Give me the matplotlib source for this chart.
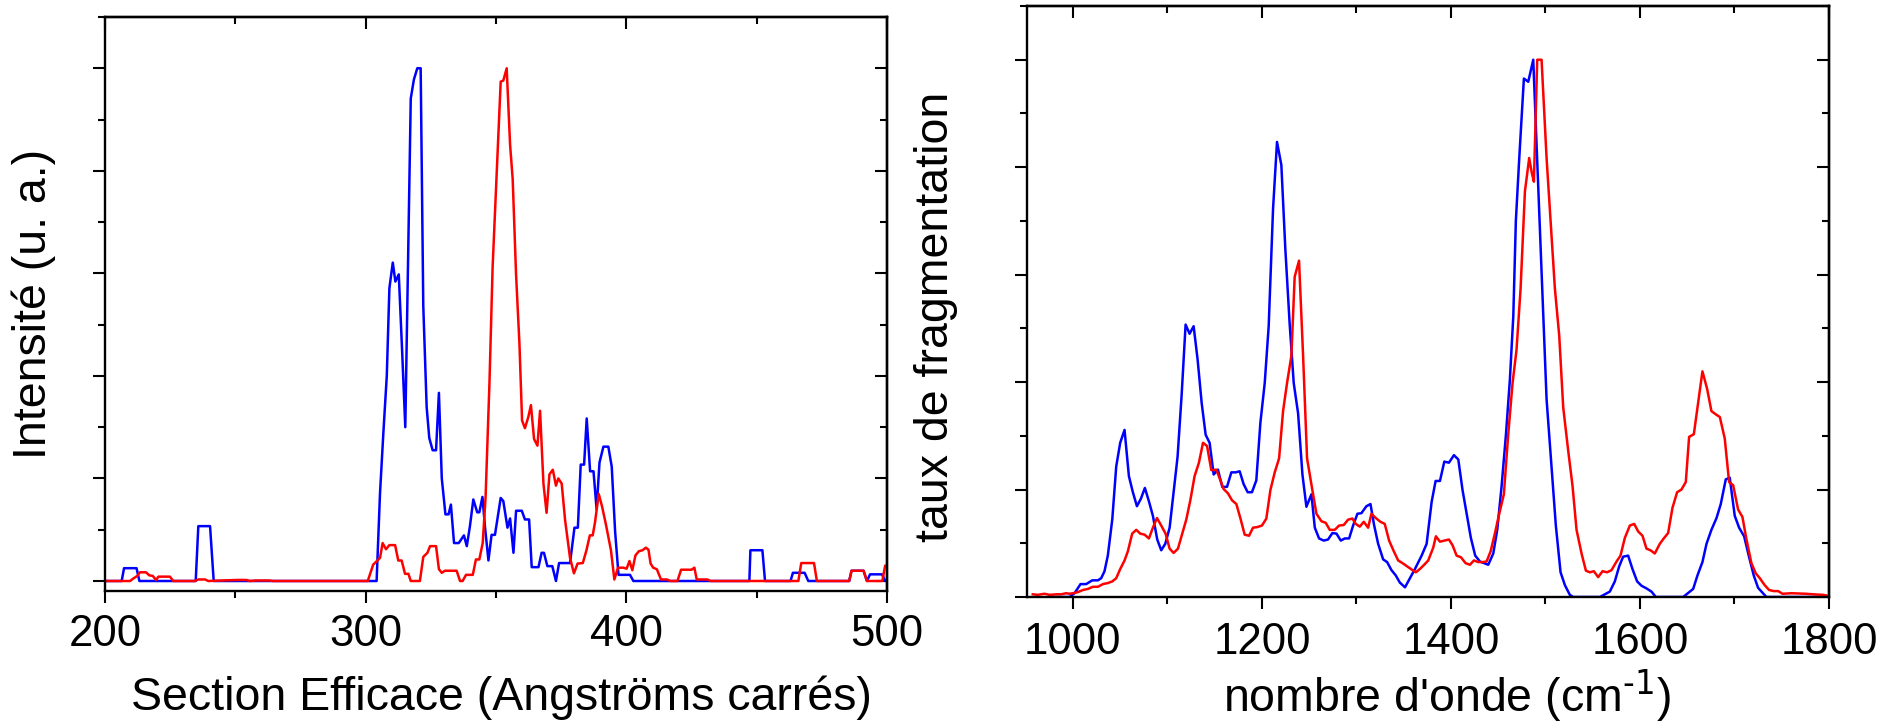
import matplotlib
matplotlib.use("Agg")
import matplotlib.pyplot as plt
from matplotlib.ticker import MultipleLocator, NullFormatter

plt.rcParams['font.family'] = ['Liberation Sans', 'DejaVu Sans']
plt.rcParams['mathtext.default'] = 'regular'

# left panel: intensity vs cross section
cs_blue_x = [200, 206.4, 207.3, 212.1, 213.2, 234.8, 235.8, 240.3, 241.7, 304.2, 305.5, 306.8,
             308.1, 309.1, 310.4, 311.4, 312.7, 314.0, 315.2, 317.3, 318.5, 319.8, 321.1, 322.1,
             323.4, 324.4, 325.7, 327.0, 328.1, 329.2, 330.6, 331.8, 332.7, 333.9, 335.7, 337.7,
             338.8, 340.0, 341.3, 342.8, 343.6, 344.8, 345.8, 347.1, 348.3, 349.6, 351.8, 352.8,
             354.4, 355.4, 356.7, 357.7, 359.9, 361.1, 362.7, 363.7, 366.3, 367.5, 368.4, 369.7,
             371.6, 373.0, 374.2, 378.4, 380.1, 381.4, 382.5, 383.8, 384.8, 386.1, 387.4, 388.6,
             389.7, 391.2, 393.1, 394.4, 395.7, 397.0, 401.4, 402.7, 447.2, 447.6, 452.2, 453.2,
             463.0, 463.9, 468.4, 469.8, 485.5, 486.4, 491.0, 492.3, 493.5, 498.1, 499.3, 500]
cs_blue_y = [0, 0, 0.025, 0.025, 0, 0, 0.107, 0.107, 0, 0, 0.171, 0.29,
             0.40, 0.571, 0.621, 0.584, 0.598, 0.447, 0.30, 0.941, 0.978, 1.0, 1.0, 0.537,
             0.339, 0.279, 0.255, 0.255, 0.367, 0.20, 0.13, 0.13, 0.149, 0.074, 0.074, 0.089,
             0.068, 0.107, 0.159, 0.134, 0.134, 0.164, 0.104, 0.04, 0.09, 0.09, 0.162, 0.156,
             0.104, 0.122, 0.055, 0.137, 0.137, 0.12, 0.12, 0.027, 0.027, 0.055, 0.055, 0.029,
             0.029, 0.0, 0.035, 0.035, 0.104, 0.104, 0.227, 0.227, 0.317, 0.214, 0.214, 0.14,
             0.231, 0.262, 0.262, 0.223, 0.096, 0.012, 0.012, 0, 0, 0.06, 0.06, 0,
             0, 0.016, 0.016, 0, 0, 0.02, 0.02, 0, 0.013, 0.013, 0, 0]

cs_red_x = [200, 209.6, 210.9, 212.4, 213.4, 215.7, 217.0, 218.3, 219.6, 220.5, 224.9, 226.2,
            234.5, 235.8, 238.4, 239.6, 250.5, 254.3, 255.5, 258.0, 263.0, 264.5, 300.8, 302.9,
            305.5, 306.5, 307.8, 309.1, 311.3, 312.5, 313.8, 315.1, 316.4, 317.3, 320.8, 322.1,
            323.7, 324.7, 327.0, 328.1, 329.2, 330.4, 334.9, 336.2, 337.2, 338.5, 341.1, 342.3,
            343.6, 344.9, 346.0, 347.5, 348.7, 350.3, 351.8, 352.8, 354.1, 355.4, 356.4, 357.7,
            359.0, 360.0, 361.1, 362.4, 363.4, 364.6, 365.9, 366.9, 368.2, 369.4, 370.5, 371.8,
            373.0, 373.9, 375.2, 376.5, 378.4, 379.9, 381.3, 383.3, 384.7, 386.0, 387.1, 388.0,
            389.4, 390.7, 392.1, 394.1, 395.4, 396.8, 398.8, 400.1, 401.2, 402.3, 403.5, 404.8,
            406.2, 407.5, 408.5, 409.3, 410.3, 411.7, 413.3, 415.6, 416.9, 419.6, 421.0, 425.0,
            426.1, 427.0, 431.0, 432.4, 466.0, 467.1, 472.0, 473.1, 485.5, 486.4, 491.0, 492.3,
            498.2, 499.3, 500]
cs_red_y = [0, 0, 0.005, 0.01, 0.017, 0.017, 0.011, 0.01, 0.002, 0.0085, 0.0085, 0,
            0, 0.003, 0.003, 0, 0.002, 0.002, 0, 0.001, 0.001, 0, 0, 0.032,
            0.045, 0.074, 0.062, 0.07, 0.07, 0.04, 0.04, 0.014, 0.014, 0, 0, 0.047,
            0.055, 0.068, 0.068, 0.023, 0.016, 0.02, 0.02, 0, 0, 0.012, 0.012, 0.042,
            0.042, 0.074, 0.163, 0.388, 0.612, 0.799, 0.974, 0.976, 1.0, 0.851, 0.784, 0.597,
            0.462, 0.313, 0.298, 0.32, 0.343, 0.277, 0.264, 0.332, 0.19, 0.133, 0.208, 0.217,
            0.186, 0.2, 0.19, 0.119, 0.045, 0.015, 0.034, 0.035, 0.06, 0.089, 0.089, 0.115,
            0.17, 0.145, 0.112, 0.06, 0.003, 0.026, 0.026, 0.024, 0.039, 0.021, 0.05, 0.058,
            0.06, 0.065, 0.061, 0.034, 0.026, 0.023, 0.003, 0.003, 0, 0, 0.022, 0.022,
            0.026, 0.003, 0.003, 0, 0, 0.035, 0.035, 0, 0, 0.02, 0.02, 0,
            0, 0.03, 0.03]

# right panel: fragmentation vs wavenumber
wn_blue_x = [975.3, 996.5, 1001.8, 1008.1, 1014.1, 1020.5, 1026.5, 1030.0, 1033.5, 1037.0, 1041.7,
             1045.9, 1050.1, 1054.7, 1059.3, 1063.5, 1067.8, 1072.0, 1076.2, 1080.5, 1084.7, 1089.3,
             1093.5, 1097.8, 1102.4, 1106.6, 1110.8, 1115.1, 1119.3, 1123.5, 1127.8, 1132.0, 1136.3,
             1140.5, 1144.7, 1149.0, 1153.5, 1158.1, 1163.1, 1167.7, 1172.3, 1176.5, 1180.7, 1185.0,
             1189.5, 1194.1, 1198.4, 1203.0, 1207.2, 1211.8, 1216.0, 1220.6, 1224.8, 1229.4, 1233.7,
             1238.3, 1242.9, 1247.1, 1252.4, 1256.0, 1260.5, 1265.4, 1270.0, 1274.6, 1278.9, 1283.5,
             1287.7, 1292.3, 1296.5, 1301.1, 1305.3, 1310.6, 1314.9, 1318.7, 1323.0, 1328.3, 1332.5,
             1337.1, 1341.7, 1345.9, 1351.4, 1361.9, 1369.0, 1374.3, 1379.6, 1383.8, 1388.4, 1393.0,
             1397.9, 1403.2, 1407.8, 1412.3, 1416.6, 1421.1, 1425.7, 1430.7, 1439.5, 1444.8, 1449.0,
             1453.6, 1458.2, 1462.4, 1466.0, 1468.7, 1472.3, 1477.2, 1481.8, 1487.1, 1490.6, 1494.1,
             1497.6, 1501.2, 1506.4, 1511.0, 1516.0, 1520.6, 1525.8, 1529.4, 1557.6, 1568.1, 1573.4,
             1578.0, 1582.2, 1587.5, 1592.1, 1597.0, 1601.6, 1606.9, 1612.2, 1616.8, 1645.7, 1656.3,
             1660.8, 1666.1, 1670.4, 1675.6, 1681.0, 1685.5, 1690.8, 1695.0, 1700.3, 1704.9, 1710.2,
             1715.5, 1720.4, 1725.0, 1733.8, 1800]
wn_blue_y = [0, 0, 0.007, 0.024, 0.024, 0.031, 0.031, 0.035, 0.048, 0.077, 0.144,
             0.243, 0.287, 0.311, 0.225, 0.195, 0.169, 0.183, 0.203, 0.178, 0.151, 0.107,
             0.087, 0.099, 0.129, 0.195, 0.261, 0.376, 0.507, 0.490, 0.504, 0.442, 0.361,
             0.302, 0.287, 0.228, 0.237, 0.205, 0.205, 0.232, 0.232, 0.234, 0.210, 0.195,
             0.195, 0.217, 0.324, 0.398, 0.504, 0.722, 0.847, 0.804, 0.648, 0.508, 0.398,
             0.342, 0.228, 0.168, 0.191, 0.129, 0.109, 0.105, 0.107, 0.119, 0.118, 0.105,
             0.109, 0.109, 0.133, 0.155, 0.156, 0.169, 0.173, 0.134, 0.099, 0.070, 0.065,
             0.050, 0.040, 0.027, 0.018, 0.052, 0.077, 0.099, 0.177, 0.216, 0.216, 0.252,
             0.250, 0.264, 0.256, 0.199, 0.155, 0.110, 0.077, 0.066, 0.060, 0.081, 0.125,
             0.206, 0.302, 0.405, 0.523, 0.700, 0.817, 0.965, 0.959, 1.000, 0.843, 0.685,
             0.527, 0.368, 0.243, 0.133, 0.046, 0.022, 0.004, 0, 0, 0.010, 0.029,
             0.057, 0.075, 0.077, 0.052, 0.029, 0.021, 0.016, 0.010, 0, 0, 0.015,
             0.040, 0.065, 0.099, 0.125, 0.147, 0.173, 0.219, 0.222, 0.151, 0.129, 0.113,
             0.074, 0.040, 0.017, 0, 0]

wn_red_x = [957.6, 962.9, 970.0, 975.3, 982.4, 987.6, 992.9, 996.5, 1000.0, 1005.3, 1010.6,
            1015.9, 1021.2, 1026.5, 1031.8, 1037.1, 1041.7, 1045.9, 1050.1, 1054.7, 1058.2, 1062.8,
            1067.1, 1071.3, 1075.9, 1080.5, 1084.7, 1089.0, 1093.5, 1098.1, 1102.4, 1106.6, 1111.2,
            1115.8, 1120.0, 1124.3, 1128.8, 1133.4, 1137.7, 1142.0, 1146.5, 1151.8, 1155.3, 1159.5,
            1164.1, 1168.4, 1173.0, 1177.2, 1181.8, 1186.4, 1190.6, 1194.8, 1200.1, 1204.7, 1209.0,
            1213.6, 1218.2, 1222.4, 1226.6, 1231.2, 1234.7, 1239.3, 1243.6, 1247.8, 1253.4, 1257.7,
            1263.0, 1267.6, 1271.8, 1277.1, 1281.7, 1286.6, 1291.2, 1295.8, 1299.3, 1303.6, 1307.8,
            1312.4, 1315.9, 1320.5, 1325.4, 1330.0, 1334.6, 1339.6, 1344.2, 1348.8, 1353.7, 1359.4,
            1362.9, 1367.1, 1371.7, 1376.0, 1381.3, 1384.1, 1388.4, 1393.0, 1397.9, 1401.8, 1406.0,
            1410.6, 1415.5, 1420.1, 1424.3, 1428.9, 1433.5, 1437.7, 1442.0, 1446.5, 1451.1, 1456.0,
            1460.6, 1465.2, 1469.4, 1473.7, 1478.3, 1482.8, 1485.5, 1487.8, 1491.3, 1495.9, 1501.2,
            1505.4, 1510.0, 1514.6, 1518.8, 1524.1, 1528.7, 1532.9, 1538.2, 1542.8, 1547.0, 1551.2,
            1555.8, 1560.4, 1565.3, 1569.9, 1575.2, 1579.4, 1584.0, 1589.3, 1593.9, 1598.1, 1602.7,
            1606.9, 1611.1, 1615.7, 1621.0, 1625.6, 1629.8, 1634.4, 1639.3, 1643.9, 1648.5, 1652.0,
            1657.0, 1661.5, 1666.1, 1671.1, 1675.6, 1680.2, 1684.5, 1689.7, 1694.3, 1698.6, 1703.8,
            1708.4, 1712.7, 1717.9, 1722.5, 1726.8, 1732.0, 1736.6, 1741.6, 1746.2, 1750.8, 1760.2,
            1776.0, 1783.2, 1793.7, 1800.0]
wn_red_y = [0.005, 0.004, 0.006, 0.004, 0.005, 0.005, 0.007, 0.006, 0.007, 0.009, 0.013,
            0.015, 0.019, 0.019, 0.024, 0.026, 0.029, 0.035, 0.052, 0.068, 0.085, 0.118,
            0.125, 0.118, 0.116, 0.109, 0.129, 0.147, 0.133, 0.118, 0.090, 0.082, 0.090,
            0.118, 0.144, 0.180, 0.225, 0.250, 0.287, 0.281, 0.236, 0.237, 0.221, 0.201,
            0.193, 0.180, 0.173, 0.147, 0.116, 0.114, 0.129, 0.130, 0.133, 0.146, 0.199,
            0.232, 0.258, 0.346, 0.398, 0.449, 0.596, 0.626, 0.449, 0.258, 0.199, 0.155,
            0.141, 0.138, 0.125, 0.125, 0.133, 0.134, 0.144, 0.146, 0.136, 0.131, 0.140,
            0.129, 0.155, 0.147, 0.140, 0.136, 0.105, 0.085, 0.068, 0.063, 0.057, 0.050,
            0.046, 0.052, 0.060, 0.068, 0.092, 0.113, 0.103, 0.105, 0.107, 0.096, 0.077,
            0.074, 0.063, 0.060, 0.068, 0.065, 0.065, 0.066, 0.085, 0.118, 0.155, 0.191,
            0.302, 0.398, 0.460, 0.574, 0.755, 0.817, 0.790, 0.773, 1.000, 1.000, 0.817,
            0.700, 0.574, 0.486, 0.353, 0.272, 0.206, 0.125, 0.081, 0.049, 0.046, 0.048,
            0.037, 0.048, 0.046, 0.050, 0.066, 0.077, 0.110, 0.133, 0.136, 0.122, 0.114,
            0.090, 0.087, 0.081, 0.099, 0.110, 0.119, 0.166, 0.195, 0.200, 0.214, 0.298,
            0.303, 0.361, 0.420, 0.387, 0.346, 0.340, 0.335, 0.295, 0.214, 0.208, 0.163,
            0.149, 0.107, 0.063, 0.044, 0.035, 0.022, 0.013, 0.011, 0.011, 0.006, 0.007,
            0.006, 0.005, 0.004, 0.002]

W, H = 1886, 722
TICK_SIZE = 31.5
LABEL_SIZE = 33.5
LINE_W = 1.8


def px(x, y):
    # pixel position (from top-left) to figure fraction
    return x / W, 1 - y / H


def style_axes(ax, xlim, ylim, xmajor, xminor, pad):
    ax.set_xlim(*xlim)
    ax.set_ylim(*ylim)
    for spine in ax.spines.values():
        spine.set_linewidth(1.7)
    ax.xaxis.set_major_locator(MultipleLocator(xmajor))
    ax.xaxis.set_minor_locator(MultipleLocator(xminor))
    ax.yaxis.set_major_locator(MultipleLocator(0.2))
    ax.yaxis.set_minor_locator(MultipleLocator(0.1))
    ax.yaxis.set_major_formatter(NullFormatter())
    ax.tick_params(which='both', direction='out', width=1.5, top=False, right=False)
    ax.tick_params(which='major', length=8.6)
    ax.tick_params(which='minor', length=5)
    ax.tick_params(axis='x', labelsize=TICK_SIZE, pad=pad)

    # mirrored ticks pointing inwards on top and right
    top = ax.secondary_xaxis('top')
    top.xaxis.set_major_locator(MultipleLocator(xmajor))
    top.xaxis.set_minor_locator(MultipleLocator(xminor))
    top.xaxis.set_major_formatter(NullFormatter())
    top.tick_params(which='both', direction='in', width=1.5)
    top.tick_params(which='major', length=8.6)
    top.tick_params(which='minor', length=5)
    top.spines['top'].set_linewidth(1.7)

    right = ax.secondary_yaxis('right')
    right.yaxis.set_major_locator(MultipleLocator(0.2))
    right.yaxis.set_minor_locator(MultipleLocator(0.1))
    right.yaxis.set_major_formatter(NullFormatter())
    right.tick_params(which='both', direction='in', width=1.5)
    right.tick_params(which='major', length=8.6)
    right.tick_params(which='minor', length=5)
    right.spines['right'].set_linewidth(1.7)


fig = plt.figure(figsize=(W / 100, H / 100), dpi=100)

ax1 = fig.add_axes([105 / W, (H - 591) / H, 782 / W, 574 / H])
ax1.plot(cs_blue_x, cs_blue_y, color='#0000ff', lw=LINE_W)
ax1.plot(cs_red_x, cs_red_y, color='#ff0000', lw=LINE_W)
style_axes(ax1, (200, 500), (-0.0195, 1.1), 100, 50, 8)

ax2 = fig.add_axes([1027 / W, (H - 597) / H, 802 / W, 591 / H])
ax2.plot(wn_blue_x, wn_blue_y, color='#0000ff', lw=LINE_W)
ax2.plot(wn_red_x, wn_red_y, color='#ff0000', lw=LINE_W)
style_axes(ax2, (951.5, 1800), (0, 1.1), 200, 100, 9.5)

fig.text(*px(501, 710), 'Section Efficace (Angströms carrés)', fontsize=LABEL_SIZE,
         ha='center', va='baseline')
fig.text(*px(1447, 712), r"nombre d'onde (cm$^{\text{-1}}$)", fontsize=LABEL_SIZE,
         ha='center', va='baseline')
fig.text(*px(34, 304), 'Intensité (u. a.)', fontsize=LABEL_SIZE, rotation=90,
         ha='center', va='center')
fig.text(*px(936, 317), 'taux de fragmentation', fontsize=LABEL_SIZE, rotation=90,
         ha='center', va='center')

fig.savefig('out.png', dpi=100)
